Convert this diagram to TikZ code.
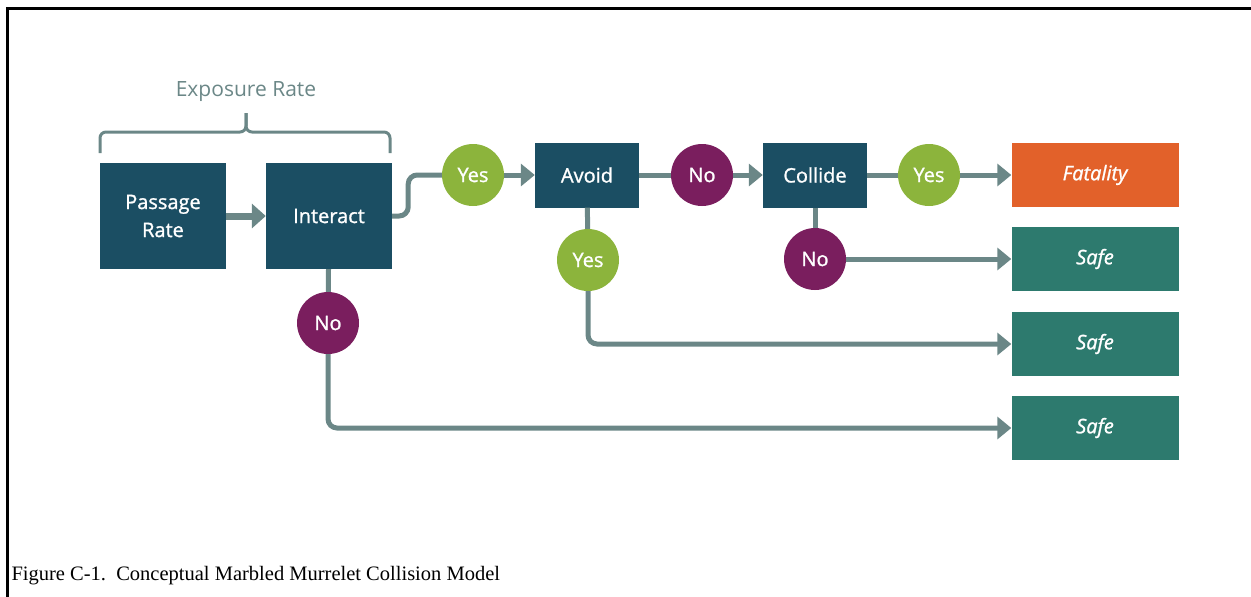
\documentclass[tikz,border=0pt]{standalone}
\usepackage{fontspec}
\setmainfont{Liberation Serif}
\newfontfamily\boxfont{Open Sans}[FakeBold=1.2]
\newfontfamily\labelfont{Open Sans}
\usetikzlibrary{
  arrows.meta,
  positioning,
}
\definecolor{cBox}{HTML}{1B4E63}
\definecolor{cSafe}{HTML}{2D7A6E}
\definecolor{cFatal}{HTML}{E2612A}
\definecolor{cYes}{HTML}{8CB43C}
\definecolor{cNo}{HTML}{7A1E5E}
\definecolor{cLine}{HTML}{6B8787}

\tikzset{
  stepbox/.style={fill=cBox,text=white,inner sep=0pt,align=center,font=\boxfont\fontsize{20}{28}\selectfont},
  endbox/.style={fill=cSafe,text=white,inner sep=0pt,minimum width=167pt,minimum height=64pt,font=\boxfont\itshape\fontsize{20}{24}\selectfont},
  yesdot/.style={circle,fill=cYes,text=white,inner sep=0pt,minimum size=62pt,font=\boxfont\fontsize{20}{24}\selectfont},
  nodot/.style={yesdot,fill=cNo},
  conn/.style={cLine,line width=5pt,rounded corners=9pt},
  arr/.style={conn,-{Triangle[length=14pt,width=22pt]}},
}

\begin{document}
\begin{tikzpicture}[x=1pt,y=-1pt]
  \useasboundingbox (0,0) rectangle (1251,597);
  \draw[line width=3pt] (7,597) -- (7,8) -- (1251,8);

  % first stage
  \node[stepbox,minimum width=126pt,minimum height=106pt] (passage) at (163,216) {Passage\\Rate};
  \node[stepbox,minimum width=126pt,minimum height=106pt] (interact) at (329,216) {Interact};
  \node[text=cLine,font=\labelfont\fontsize{21}{24}\selectfont] (exposure) at (246,92) {Exposure Rate};
  \draw[cLine,line width=3pt,rounded corners=6pt] (100,153) -- (100,132) -- (246,132) -- (246,113);
  \draw[cLine,line width=3pt,rounded corners=6pt] (246,113) -- (246,132) -- (390,132) -- (390,153);

  % decisions
  \node[yesdot] (yesI) at (473,175) {Yes};
  \node[stepbox,minimum width=104pt,minimum height=65pt] (avoid) at (587,175) {Avoid};
  \node[nodot] (noAv) at (702,175) {No};
  \node[stepbox,minimum width=104pt,minimum height=65pt] (collide) at (815,175) {Collide};
  \node[yesdot] (yesC) at (929,175) {Yes};
  \node[yesdot] (yesAv) at (588,260) {Yes};
  \node[nodot] (noC) at (815,259) {No};
  \node[nodot] (noI) at (328,323) {No};

  % outcomes
  \node[endbox,fill=cFatal] (fatal) at (1095,175) {Fatality};
  \foreach \name/\y in {safeC/259,safeAv/344,safeI/428}{
      \node[endbox] (\name) at (1095,\y) {Safe};
    }

  % connectors
  \draw[cLine,line width=7pt,-{Triangle[length=14pt,width=24pt]}] (passage) -- (interact);
  \draw[conn] (interact.east) -- ++(16,0) |- (yesI);
  \draw[arr] (yesI) -- (avoid);
  \draw[conn] (avoid) -- (noAv);
  \draw[arr] (noAv) -- (collide);
  \draw[conn] (collide) -- (yesC);
  \draw[arr] (yesC) -- (fatal);
  \draw[conn] (avoid) -- (yesAv);
  \draw[arr] (yesAv) |- (safeAv);
  \draw[conn] (collide) -- (noC);
  \draw[arr] (noC) -- (safeC);
  \draw[conn] (interact) -- (noI);
  \draw[arr] (noI) |- (safeI);

  \node[anchor=base west,font=\fontsize{20.5}{24}\selectfont] (caption) at (8,580) {Figure C-1.\ \ Conceptual Marbled Murrelet Collision Model};
\end{tikzpicture}
\end{document}
